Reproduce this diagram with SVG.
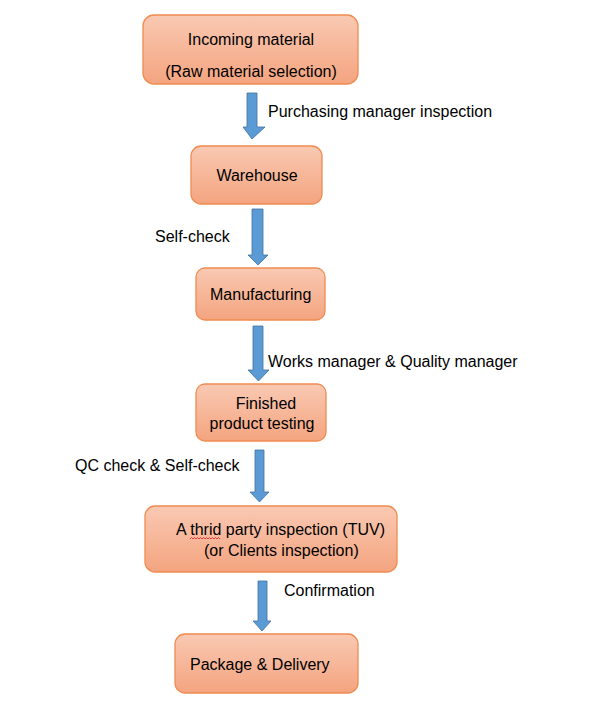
<svg xmlns="http://www.w3.org/2000/svg" width="600" height="726" viewBox="0 0 600 726">
<defs>
<linearGradient id="g" x1="0" y1="0" x2="0" y2="1">
<stop offset="0" stop-color="#f9c9b3"/>
<stop offset="1" stop-color="#f4a47f"/>
</linearGradient>
<style>
.box{fill:url(#g);stroke:#f08c50;stroke-width:1.3}
.t{font-family:"Liberation Sans",Arial,sans-serif;font-size:16px;fill:#000}
.c{text-anchor:middle}
.arr{fill:#5b9bd5;stroke:#41719c;stroke-width:0.8}
</style>
</defs>
<rect width="600" height="726" fill="#fff"/>
<g id="connectors">
<path class="arr" d="M247,93 H257 V127 H265 L252,139 L243,127 H247 Z"/>
<path class="arr" d="M252,209 H263 V255 H268 L258,265 L248,255 H252 Z"/>
<path class="arr" d="M253,326 H263 V370 H269 L258.5,381 L248,370 H253 Z"/>
<path class="arr" d="M255,450 H264 V492 H269 L259.5,502 L250,492 H255 Z"/>
<path class="arr" d="M258,581 H267 V621 H271 L262,631 L253,621 H258 Z"/>
<text class="t" x="268" y="117">Purchasing manager inspection</text>
<text class="t" x="155" y="242">Self-check</text>
<text class="t" x="268" y="367">Works manager &amp; Quality manager</text>
<text class="t" x="75" y="471">QC check &amp; Self-check</text>
<text class="t" x="284" y="596">Confirmation</text>
</g>
<g id="n1">
<rect class="box" x="143" y="15" width="215" height="69" rx="11"/>
<text class="t c" x="251" y="45">Incoming material</text>
<text class="t c" x="251" y="77">(Raw material selection)</text>
</g>
<g id="n2">
<rect class="box" x="191" y="146" width="131" height="58" rx="10"/>
<text class="t c" x="257" y="181">Warehouse</text>
</g>
<g id="n3">
<rect class="box" x="196" y="268" width="129" height="52" rx="9"/>
<text class="t" x="210" y="300">Manufacturing</text>
</g>
<g id="n4">
<rect class="box" x="196" y="384" width="130" height="57" rx="9"/>
<text class="t c" x="266" y="409">Finished</text>
<text class="t c" x="262" y="429">product testing</text>
</g>
<g id="n5">
<rect class="box" x="145" y="506" width="252" height="66" rx="10"/>
<text class="t" x="176" y="535">A thrid party inspection (TUV)</text>
<text class="t" x="204" y="556">(or Clients inspection)</text>
<path d="M190,539 l1.5,-1.5 l1.5,1.5 l1.5,-1.5 l1.5,1.5 l1.5,-1.5 l1.5,1.5 l1.5,-1.5 l1.5,1.5 l1.5,-1.5 l1.5,1.5 l1.5,-1.5 l1.5,1.5 l1.5,-1.5 l1.5,1.5 l1.5,-1.5 l1.5,1.5 l1.5,-1.5 l1.5,1.5 l1.5,-1.5 l1.5,1.5" fill="none" stroke="#e02020" stroke-width="0.8"/>
</g>
<g id="n6">
<rect class="box" x="175" y="634" width="183" height="59" rx="10"/>
<text class="t" x="190" y="670">Package &amp; Delivery</text>
</g>
</svg>
